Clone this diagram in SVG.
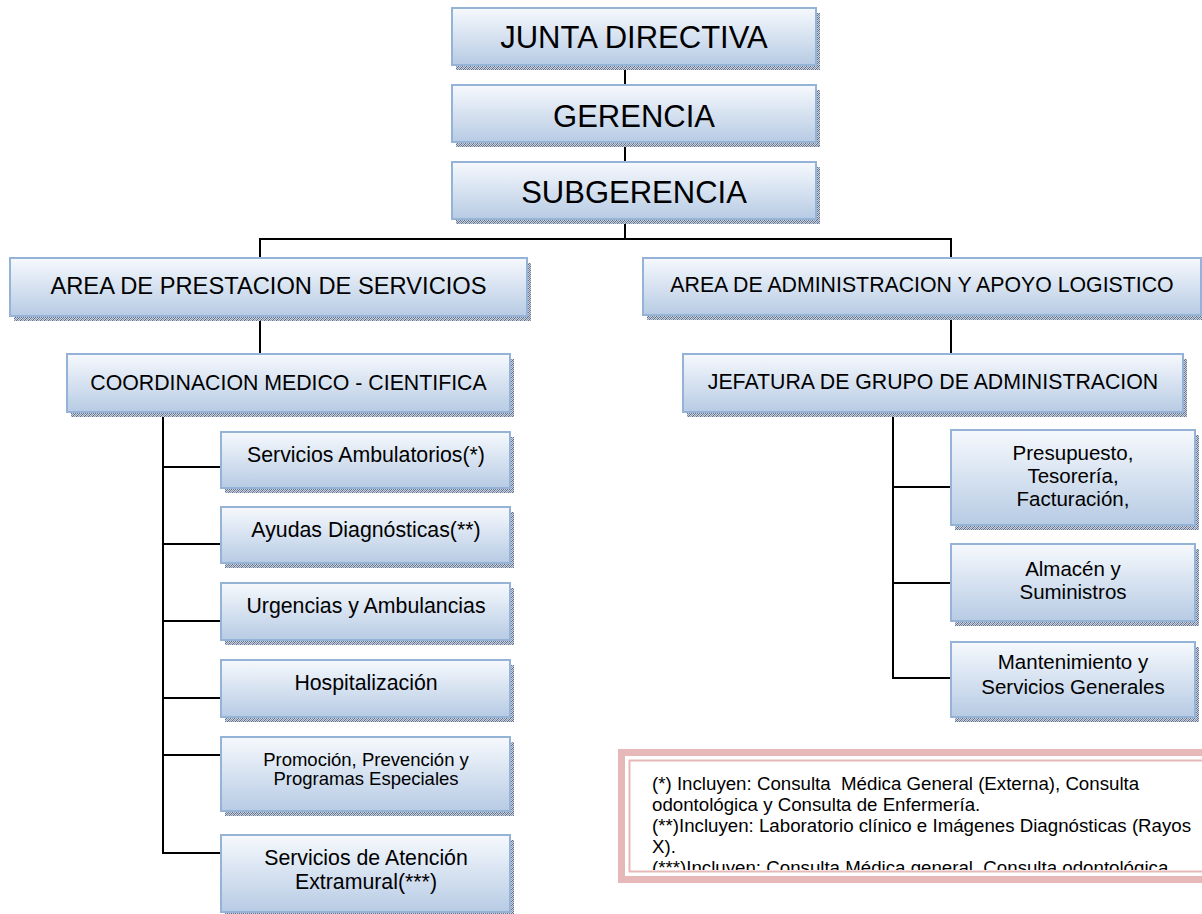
<svg xmlns="http://www.w3.org/2000/svg" width="1202" height="914" viewBox="0 0 1202 914">
<defs>
<linearGradient id="g" x1="0" y1="0" x2="0" y2="1">
<stop offset="0" stop-color="#f6f9fd"/>
<stop offset="1" stop-color="#b7cbe4"/>
</linearGradient>
<pattern id="sh" patternUnits="userSpaceOnUse" width="4" height="4">
<rect width="4" height="4" fill="#c9d2de"/>
<rect x="0" y="0" width="1" height="1" fill="#5f6e86"/>
<rect x="2" y="0" width="1" height="1" fill="#8a98ad"/>
<rect x="1" y="1" width="1" height="1" fill="#6b7a92"/>
<rect x="3" y="1" width="1" height="1" fill="#5f6e86"/>
<rect x="0" y="2" width="1" height="1" fill="#8a98ad"/>
<rect x="2" y="2" width="1" height="1" fill="#5f6e86"/>
<rect x="1" y="3" width="1" height="1" fill="#5f6e86"/>
<rect x="3" y="3" width="1" height="1" fill="#8a98ad"/>
</pattern>
<clipPath id="nc"><rect x="631" y="762" width="580" height="108"/></clipPath>
</defs>
<style>
.s{fill:url(#sh)}
.b{fill:url(#g);stroke:#95b3d7;stroke-width:2}
text{font-family:"Liberation Sans",Arial,sans-serif;fill:#000;text-anchor:middle}
.t1{font-size:31px}
.t2{font-size:23.7px}
.t3{font-size:21.3px}
.t4{font-size:20.5px}
.t5{font-size:18.5px}
.c line{stroke:#000;stroke-width:2}
.nt{font-size:18.7px;text-anchor:start}
</style>
<g class="c" id="connectors">
<line x1="625" y1="65" x2="625" y2="86"/>
<line x1="625" y1="142" x2="625" y2="163"/>
<line x1="625" y1="219" x2="625" y2="239"/>
<line x1="259" y1="239" x2="952" y2="239"/>
<line x1="260" y1="239" x2="260" y2="259"/>
<line x1="951" y1="239" x2="951" y2="259"/>
<line x1="260" y1="316" x2="260" y2="355"/>
<line x1="951" y1="315" x2="951" y2="355"/>
<line x1="163" y1="412" x2="163" y2="854"/>
<line x1="162" y1="467" x2="222" y2="467"/>
<line x1="162" y1="544" x2="222" y2="544"/>
<line x1="162" y1="621" x2="222" y2="621"/>
<line x1="162" y1="698" x2="222" y2="698"/>
<line x1="162" y1="755" x2="222" y2="755"/>
<line x1="162" y1="853" x2="222" y2="853"/>
<line x1="893" y1="412" x2="893" y2="679"/>
<line x1="892" y1="487" x2="952" y2="487"/>
<line x1="892" y1="583" x2="952" y2="583"/>
<line x1="892" y1="678" x2="952" y2="678"/>
</g>
<g id="n-junta"><rect class="s" x="456" y="13" width="364" height="57"/><rect class="b" x="452" y="8" width="364" height="57"/><text class="t1" x="634" y="48">JUNTA DIRECTIVA</text></g>
<g id="n-gerencia"><rect class="s" x="456" y="90" width="364" height="57"/><rect class="b" x="452" y="85" width="364" height="57"/><text class="t1" x="634" y="127">GERENCIA</text></g>
<g id="n-subgerencia"><rect class="s" x="456" y="167" width="364" height="57"/><rect class="b" x="452" y="162" width="364" height="57"/><text class="t1" x="634" y="203">SUBGERENCIA</text></g>
<g id="n-area-prest"><rect class="s" x="14" y="263" width="517" height="58"/><rect class="b" x="10" y="258" width="517" height="58"/><text class="t2" x="268.5" y="294">AREA DE PRESTACION DE SERVICIOS</text></g>
<g id="n-area-admin"><rect class="s" x="647" y="263" width="558" height="57"/><rect class="b" x="643" y="258" width="558" height="57"/><text class="t3" x="922" y="292">AREA DE ADMINISTRACION Y APOYO LOGISTICO</text></g>
<g id="n-coord"><rect class="s" x="71" y="359" width="443" height="58"/><rect class="b" x="67" y="354" width="443" height="58"/><text class="t3" x="288.5" y="390">COORDINACION MEDICO - CIENTIFICA</text></g>
<g id="n-jefatura"><rect class="s" x="687" y="359" width="500" height="58"/><rect class="b" x="683" y="354" width="500" height="58"/><text class="t3" x="933" y="389">JEFATURA DE GRUPO DE ADMINISTRACION</text></g>
<g id="n-ambulatorios"><rect class="s" x="225" y="437" width="289" height="56"/><rect class="b" x="221" y="432" width="289" height="56"/><text class="t3" x="366" y="462">Servicios Ambulatorios(*)</text></g>
<g id="n-ayudas"><rect class="s" x="225" y="512" width="289" height="56"/><rect class="b" x="221" y="507" width="289" height="56"/><text class="t3" x="366" y="537">Ayudas Diagnósticas(**)</text></g>
<g id="n-urgencias"><rect class="s" x="225" y="588" width="289" height="57"/><rect class="b" x="221" y="583" width="289" height="57"/><text class="t3" x="366" y="613">Urgencias y Ambulancias</text></g>
<g id="n-hosp"><rect class="s" x="225" y="665" width="289" height="57"/><rect class="b" x="221" y="660" width="289" height="57"/><text class="t3" x="366" y="690">Hospitalización</text></g>
<g id="n-promocion"><rect class="s" x="225" y="742" width="289" height="74"/><rect class="b" x="221" y="737" width="289" height="74"/><text class="t5" x="366" y="766">Promoción, Prevención y</text><text class="t5" x="366" y="785">Programas Especiales</text></g>
<g id="n-extramural"><rect class="s" x="225" y="840" width="289" height="77"/><rect class="b" x="221" y="835" width="289" height="77"/><text class="t3" x="366" y="865">Servicios de Atención</text><text class="t3" x="366" y="889">Extramural(***)</text></g>
<g id="n-presupuesto"><rect class="s" x="955" y="435" width="244" height="95"/><rect class="b" x="951" y="430" width="244" height="95"/><text class="t4" x="1073" y="460">Presupuesto,</text><text class="t4" x="1073" y="483">Tesorería,</text><text class="t4" x="1073" y="506">Facturación,</text></g>
<g id="n-almacen"><rect class="s" x="955" y="549" width="244" height="77"/><rect class="b" x="951" y="544" width="244" height="77"/><text class="t4" x="1073" y="576">Almacén y</text><text class="t4" x="1073" y="599">Suministros</text></g>
<g id="n-mantenimiento"><rect class="s" x="955" y="647" width="244" height="75"/><rect class="b" x="951" y="642" width="244" height="75"/><text class="t4" x="1073" y="669">Mantenimiento y</text><text class="t4" x="1073" y="694">Servicios Generales</text></g>
<g id="note">
<rect x="621.5" y="752.5" width="600" height="127" fill="#fff" stroke="#e6b9b8" stroke-width="7"/>
<rect x="629.5" y="760.5" width="600" height="111" fill="none" stroke="#e6b9b8" stroke-width="2"/>
<g clip-path="url(#nc)">
<text class="nt" x="652" y="790" xml:space="preserve">(*) Incluyen: Consulta  Médica General (Externa), Consulta</text>
<text class="nt" x="652" y="811">odontológica y Consulta de Enfermería.</text>
<text class="nt" x="652" y="832">(**)Incluyen: Laboratorio clínico e Imágenes Diagnósticas (Rayos</text>
<text class="nt" x="652" y="853">X).</text>
<text class="nt" x="652" y="874">(***)Incluyen: Consulta Médica general, Consulta odontológica.</text>
</g>
</g>
</svg>
